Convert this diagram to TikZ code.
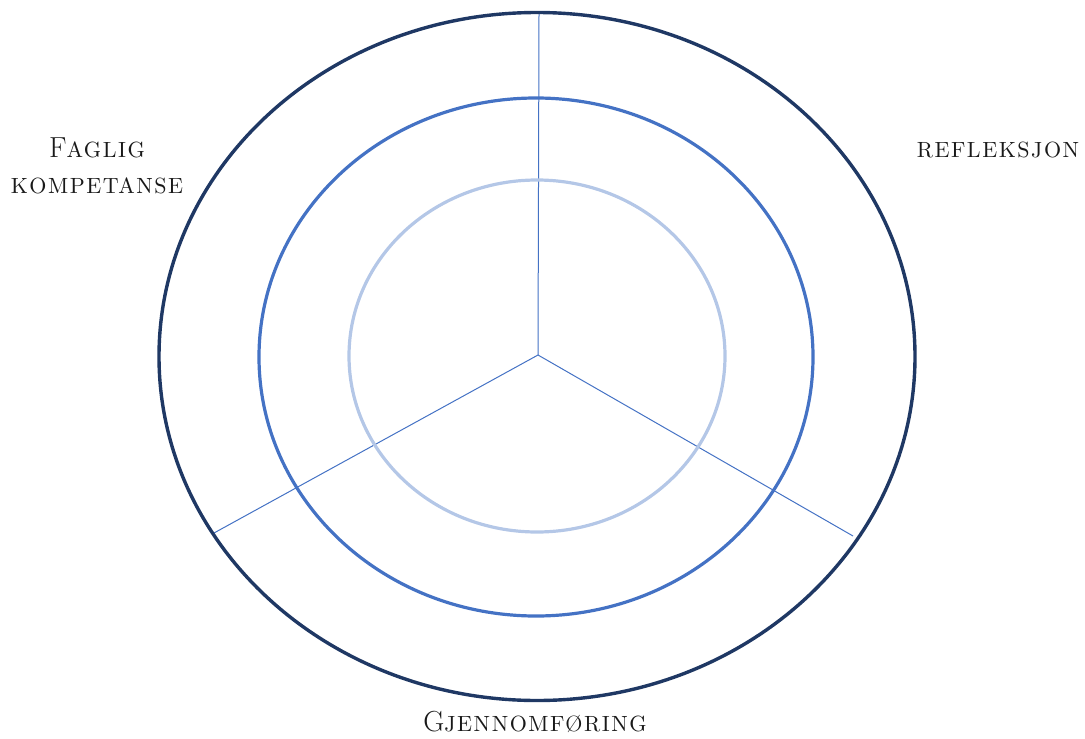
\documentclass[tikz,border=0pt]{standalone}
\usepackage{fontspec}
\usepackage{tikz}
\usetikzlibrary{positioning}

\newfontfamily\lblfont{Latin Modern Roman}[LetterSpace=7]

\definecolor{ringdark}{RGB}{31,56,100}
\definecolor{ringmid}{RGB}{68,114,196}
\definecolor{ringlight}{RGB}{180,199,231}

% small caps drawn as two sizes of capitals
\newcommand{\initcap}[1]{{\fontsize{14.5}{17}\selectfont #1}}
\newcommand{\lowcaps}[1]{\MakeUppercase{#1}}

\begin{document}
\begin{tikzpicture}[
    x=0.5pt, y=-0.5pt,
    ring/.style={line width=1.6pt},
    spoke/.style={draw=ringmid, line width=0.5pt},
    lbl/.style={align=center, font=\lblfont\fontsize{11}{17}\selectfont, text=black!90, inner sep=0pt}
]
\useasboundingbox (0,0) rectangle (1085,738);

\coordinate (c) at (538,355);
\coordinate (top) at (539,13);
\coordinate (left) at (214,533);
\coordinate (right) at (853,536);

% spokes
\draw[spoke] (c) -- (top);
\draw[spoke] (c) -- (left);
\draw[spoke] (c) -- (right);

% rings
\draw[ring, draw=ringlight] (537,356) ellipse [x radius=188, y radius=176];
\draw[ring, draw=ringmid] (536,357) ellipse [x radius=277, y radius=259];
\draw[ring, draw=ringdark, line width=1.7pt] (537,356.5) ellipse [x radius=378, y radius=344];

\node[lbl] (fag) at (97,166) {\initcap{F}\lowcaps{aglig}\\[1pt]\lowcaps{kompetanse}};
\node[lbl] (ref) at (998,150) {\lowcaps{refleksjon}};
\node[lbl] (gjen) at (535,722) {\initcap{G}\lowcaps{jennomføring}};
\end{tikzpicture}
\end{document}
